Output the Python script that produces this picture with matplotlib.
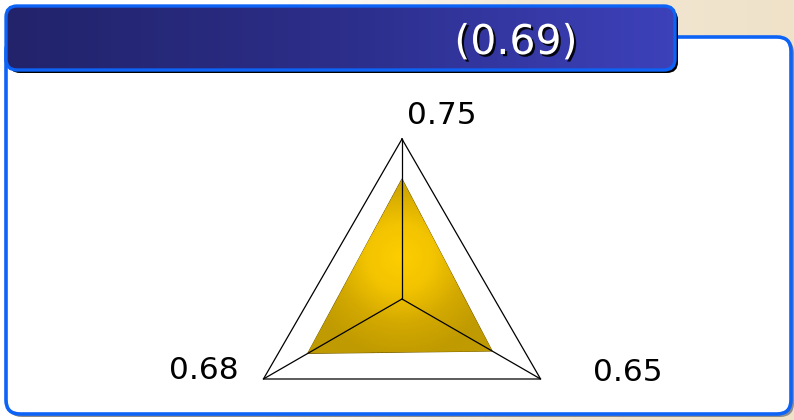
import numpy as np
import matplotlib
matplotlib.use("Agg")
import matplotlib.pyplot as plt
import matplotlib.patheffects as pe
from matplotlib.patches import FancyBboxPatch
from matplotlib.colors import LinearSegmentedColormap

# chart data
title = "(0.69)"
categories = ["top", "right", "left"]
values = [0.75, 0.65, 0.68]
value_labels = ["0.75", "0.65", "0.68"]

W, H = 794, 420
fig = plt.figure(figsize=(W / 100, H / 100), dpi=100)

# decoration layer in pixel units
bg = fig.add_axes([0, 0, 1, 1])
bg.set_xlim(0, W)
bg.set_ylim(H, 0)
bg.set_axis_off()

# page background: white fading to beige
grad = np.linspace(0, 1, 256).reshape(1, -1)
page_cmap = LinearSegmentedColormap.from_list("page", ["#ffffff", "#ffffff", "#f3e8d6", "#efe2c9"])
bg.imshow(grad, cmap=page_cmap, extent=(0, W, H, 0), aspect="auto", zorder=0)

# content panel
panel_shadow = FancyBboxPatch((8, 39), 786, 378, boxstyle="round,pad=0,rounding_size=14",
                              fc="#8c8c8c", ec="none", zorder=1)
bg.add_patch(panel_shadow)
panel = FancyBboxPatch((6, 37), 785, 377, boxstyle="round,pad=0,rounding_size=14",
                       fc="white", ec="#0d63f6", lw=2.6, zorder=2)
bg.add_patch(panel)

# header bar
head_shadow = FancyBboxPatch((9, 9), 669, 64, boxstyle="round,pad=0,rounding_size=11",
                             fc="black", ec="none", zorder=3)
bg.add_patch(head_shadow)
head = FancyBboxPatch((6, 6), 669, 64, boxstyle="round,pad=0,rounding_size=11",
                      fc="none", ec="#0d63f6", lw=2.4, zorder=5)
bg.add_patch(head)
head_cmap = LinearSegmentedColormap.from_list("head", ["#22236a", "#2c2e8a", "#3d41ba"])
head_img = bg.imshow(grad, cmap=head_cmap, extent=(6, 675, 70, 6), aspect="auto", zorder=4)
head_img.set_clip_path(head)

bg.text(516, 43, title, color="white", fontsize=29.5, ha="center", va="center", zorder=6,
        path_effects=[pe.SimplePatchShadow(offset=(1.6, -1.6), shadow_rgbFace="black", alpha=0.9),
                      pe.Normal()])

# radar chart
ax = fig.add_axes([(402 - 160) / W, (H - 299 - 160) / H, 320 / W, 320 / H], projection="polar")
ax.set_theta_zero_location("N")
ax.set_theta_direction(-1)
ax.set_ylim(0, 1)
ax.set_axis_off()

n = len(values)
theta = np.arange(n) * 2 * np.pi / n
theta_c = np.append(theta, theta[0])
vals_c = np.append(values, values[0])

poly = ax.fill(theta_c, vals_c, fc="#d4aa00", ec="#7a6000", lw=0.8, zorder=2)[0]

# radial shading of the gold area
tt, rr = np.meshgrid(np.linspace(0, 2 * np.pi, 240), np.linspace(0, 1, 120))
px = rr * np.sin(tt)
py = rr * np.cos(tt)
dist = np.hypot(px + 0.01, py - 0.26)
gold_cmap = LinearSegmentedColormap.from_list("gold", ["#fdcd00", "#f2c300", "#d2a800", "#bf9a00"])
mesh = ax.pcolormesh(tt, rr, dist[:-1, :-1], cmap=gold_cmap, vmin=0, vmax=0.62,
                     shading="flat", zorder=3)
mesh.set_clip_path(poly)

# outer frame and spokes
ax.plot(theta_c, np.ones(n + 1), color="black", lw=0.9, clip_on=False, zorder=4)
for t in theta:
    ax.plot([t, t], [0, 1], color="black", lw=0.9, clip_on=False, zorder=4)

# value labels next to each spoke tip
offsets = [(29, 17), (63, 5), (-43, 6)]
for t, lab, off in zip(theta, value_labels, offsets):
    ax.annotate(lab, xy=(t, 1), xytext=off, textcoords="offset points",
                ha="center", va="center", fontsize=22.5, color="black", annotation_clip=False)

fig.savefig("out.png", dpi=100)
